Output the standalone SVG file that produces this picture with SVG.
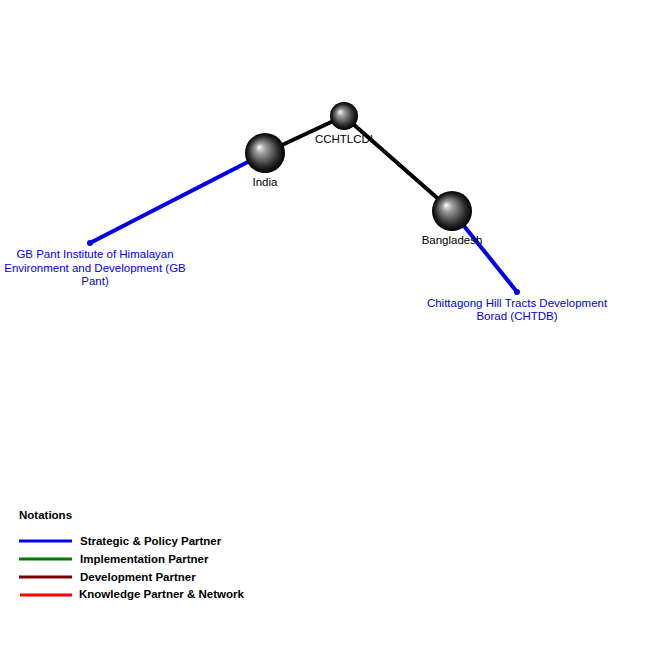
<svg xmlns="http://www.w3.org/2000/svg" width="650" height="650" viewBox="0 0 650 650">
<style>
text{font-family:"Liberation Sans",Arial,sans-serif;font-size:11.5px}
.lbl{fill:#000;text-anchor:middle}
.blue{fill:#0000ee;text-anchor:middle}
.leg{font-weight:bold;fill:#000}
.k{stroke:#000;stroke-width:4;stroke-linecap:round}
.b{stroke:#0000ee;stroke-width:4;stroke-linecap:round}
</style>
<defs>
<radialGradient id="sph" cx="0.5" cy="0.5" r="0.5" fx="0.35" fy="0.35">
<stop offset="0" stop-color="#ffffff"/>
<stop offset="0.25" stop-color="#a0a0a0"/>
<stop offset="0.75" stop-color="#2a2a2a"/>
<stop offset="1" stop-color="#000"/>
</radialGradient>
</defs>
<rect width="650" height="650" fill="#fff"/>
<g id="connectors">
<line class="k" x1="265" y1="153" x2="344" y2="116"/>
<line class="k" x1="344" y1="116" x2="452" y2="211"/>
<line class="b" x1="265" y1="153" x2="90" y2="243"/>
<line class="b" stroke-width="3" x1="452" y1="211" x2="517" y2="292"/>
</g>
<g id="india"><circle cx="265" cy="153" r="20" fill="url(#sph)"/><text class="lbl" x="265" y="186">India</text></g>
<g id="cchtlcdi"><circle cx="344" cy="116" r="14" fill="url(#sph)"/><text class="lbl" x="344" y="143">CCHTLCDI</text></g>
<g id="bangladesh"><circle cx="452" cy="211" r="20" fill="url(#sph)"/><text class="lbl" x="452" y="244">Bangladesh</text></g>
<g id="gbpant"><circle cx="90" cy="243" r="3" fill="#0000ee"/>
<text class="blue" x="95" y="258">GB Pant Institute of Himalayan</text>
<text class="blue" x="95" y="272">Environment and Development (GB</text>
<text class="blue" x="95" y="285">Pant)</text></g>
<g id="chtdb"><circle cx="517" cy="292" r="3" fill="#0000ee"/>
<text class="blue" x="517" y="307">Chittagong Hill Tracts Development</text>
<text class="blue" x="517" y="320">Borad (CHTDB)</text></g>
<g id="legend">
<text class="leg" x="19" y="519">Notations</text>
<line x1="19" y1="541" x2="72" y2="541" stroke="#0000ee" stroke-width="3"/>
<text class="leg" x="80" y="545">Strategic &amp; Policy Partner</text>
<line x1="19" y1="559" x2="72" y2="559" stroke="#007700" stroke-width="3"/>
<text class="leg" x="80" y="563">Implementation Partner</text>
<line x1="19" y1="577" x2="72" y2="577" stroke="#770000" stroke-width="3"/>
<text class="leg" x="80" y="581">Development Partner</text>
<line x1="20" y1="595" x2="72" y2="595" stroke="#ff0000" stroke-width="3"/>
<text class="leg" x="79" y="598">Knowledge Partner &amp; Network</text>
</g>
</svg>
